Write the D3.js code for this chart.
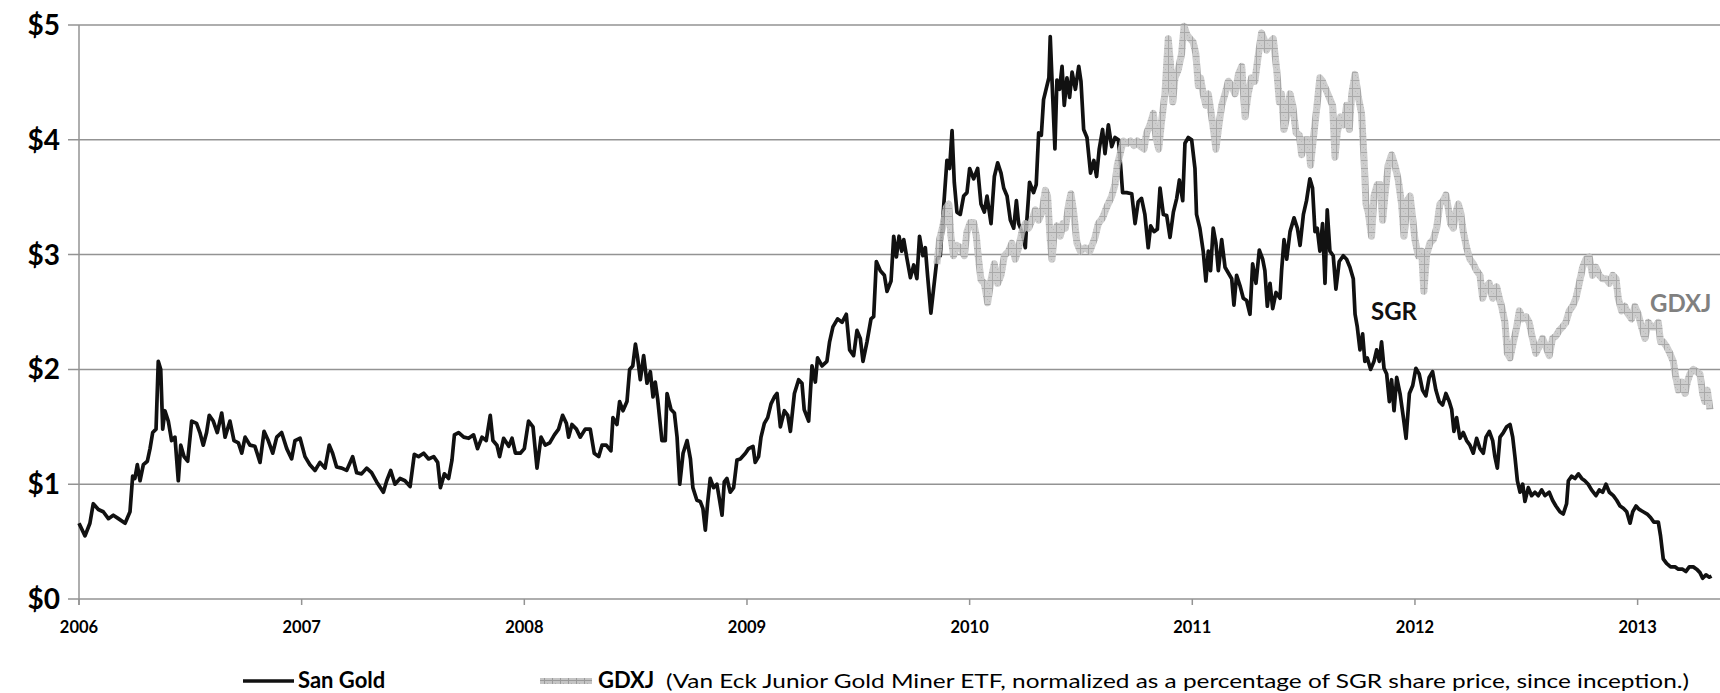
<!DOCTYPE html>
<html>
  <head>
    <meta charset="utf-8">
    <style>
      body { margin: 0; background: #fff; }
      text { font-family: Lato, "Open Sans", sans-serif; }
      .grid line { stroke: #939393; stroke-width: 1.5; }
    </style>
    <script src="https://cdnjs.cloudflare.com/ajax/libs/d3/7.8.5/d3.min.js"></script>
  </head>
  <body>
    <svg width="1720" height="693" id="SVG"></svg>
    <script>
      // tick labels
      var yearTicks = [2006, 2007, 2008, 2009, 2010, 2011, 2012, 2013];
      var priceTicks = [0, 1, 2, 3, 4, 5];

      // San Gold (SGR) share price, decimal year -> dollars
      var sgrYears = [2006.000,2006.027,2006.049,2006.064,2006.087,2006.109,2006.132,2006.154,2006.177,2006.207,2006.229,2006.241,2006.251,2006.262,2006.274,2006.289,2006.307,2006.319,2006.331,2006.346,2006.356,2006.367,2006.376,2006.386,2006.401,2006.416,2006.431,2006.446,2006.457,2006.472,2006.488,2006.506,2006.528,2006.543,2006.558,2006.573,2006.585,2006.603,2006.621,2006.641,2006.656,2006.678,2006.696,2006.716,2006.731,2006.746,2006.768,2006.790,2006.813,2006.831,2006.850,2006.870,2006.888,2006.910,2006.933,2006.955,2006.970,2006.993,
        2007.015,2007.037,2007.060,2007.082,2007.105,2007.124,2007.139,2007.157,2007.180,2007.202,2007.229,2007.247,2007.269,2007.292,2007.314,2007.337,2007.367,2007.382,2007.400,2007.419,2007.442,2007.464,2007.487,2007.506,2007.525,2007.548,2007.570,2007.593,2007.611,2007.623,2007.641,2007.660,2007.675,2007.686,2007.705,2007.728,2007.750,2007.772,2007.790,2007.810,2007.829,2007.847,2007.859,2007.877,2007.889,2007.907,2007.930,2007.945,2007.960,2007.982,
        2008.000,2008.019,2008.039,2008.057,2008.075,2008.094,2008.114,2008.135,2008.154,2008.172,2008.189,2008.199,2008.214,2008.234,2008.251,2008.274,2008.296,2008.314,2008.334,2008.349,2008.368,2008.389,2008.398,2008.416,2008.428,2008.443,2008.461,2008.473,2008.487,2008.499,2008.509,2008.521,2008.536,2008.551,2008.566,2008.578,2008.588,2008.599,2008.618,2008.633,2008.641,2008.659,2008.674,2008.686,2008.698,2008.713,2008.731,2008.746,2008.757,2008.775,2008.790,2008.802,2008.813,2008.823,2008.835,2008.850,2008.865,2008.877,2008.888,2008.898,2008.910,2008.925,2008.940,2008.955,2008.970,2008.993,
        2009.007,2009.027,2009.037,2009.052,2009.063,2009.078,2009.093,2009.108,2009.123,2009.135,2009.150,2009.168,2009.183,2009.195,2009.213,2009.232,2009.247,2009.257,2009.277,2009.292,2009.307,2009.317,2009.337,2009.359,2009.371,2009.386,2009.407,2009.427,2009.446,2009.461,2009.479,2009.494,2009.509,2009.521,2009.539,2009.557,2009.569,2009.581,2009.599,2009.617,2009.629,2009.647,2009.659,2009.671,2009.683,2009.695,2009.704,2009.719,2009.734,2009.749,2009.763,2009.775,2009.790,2009.801,2009.811,2009.826,2009.838,2009.853,2009.868,2009.883,2009.898,2009.910,2009.921,2009.931,2009.943,2009.958,2009.973,2009.988,
        2010.000,2010.018,2010.036,2010.051,2010.066,2010.078,2010.096,2010.111,2010.126,2010.141,2010.153,2010.168,2010.183,2010.198,2010.210,2010.220,2010.235,2010.250,2010.257,2010.269,2010.287,2010.299,2010.310,2010.322,2010.332,2010.347,2010.356,2010.362,2010.371,2010.383,2010.392,2010.404,2010.415,2010.425,2010.437,2010.449,2010.460,2010.475,2010.490,2010.500,2010.512,2010.527,2010.543,2010.558,2010.570,2010.582,2010.597,2010.608,2010.623,2010.638,2010.653,2010.668,2010.678,2010.687,2010.705,2010.728,2010.743,2010.757,2010.772,2010.787,2010.802,2010.813,2010.828,2010.843,2010.855,2010.870,2010.885,2010.900,2010.915,2010.930,2010.942,2010.957,2010.967,2010.982,2010.997,
        2011.012,2011.019,2011.034,2011.049,2011.061,2011.072,2011.082,2011.094,2011.106,2011.117,2011.132,2011.147,2011.162,2011.177,2011.187,2011.199,2011.214,2011.229,2011.244,2011.259,2011.271,2011.286,2011.301,2011.316,2011.326,2011.337,2011.349,2011.361,2011.376,2011.394,2011.401,2011.412,2011.424,2011.439,2011.457,2011.472,2011.484,2011.499,2011.513,2011.528,2011.540,2011.551,2011.561,2011.573,2011.585,2011.596,2011.606,2011.618,2011.633,2011.645,2011.660,2011.678,2011.693,2011.708,2011.723,2011.731,2011.741,2011.753,2011.765,2011.775,2011.786,2011.801,2011.816,2011.828,2011.840,2011.850,2011.861,2011.873,2011.885,2011.895,2011.906,2011.918,2011.933,2011.948,2011.960,2011.975,2011.990,
        2012.004,2012.019,2012.034,2012.049,2012.064,2012.079,2012.094,2012.109,2012.124,2012.139,2012.154,2012.165,2012.175,2012.187,2012.202,2012.217,2012.232,2012.247,2012.262,2012.277,2012.292,2012.307,2012.319,2012.334,2012.349,2012.359,2012.370,2012.382,2012.397,2012.412,2012.427,2012.439,2012.449,2012.460,2012.472,2012.484,2012.494,2012.509,2012.524,2012.539,2012.554,2012.569,2012.584,2012.603,2012.618,2012.633,2012.651,2012.666,2012.681,2012.689,2012.704,2012.719,2012.734,2012.749,2012.763,2012.778,2012.793,2012.813,2012.828,2012.843,2012.858,2012.873,2012.891,2012.906,2012.921,2012.936,2012.951,2012.966,2012.978,2012.993,
        2013.007,2013.025,2013.043,2013.058,2013.073,2013.093,2013.103,2013.115,2013.130,2013.148,2013.168,2013.183,2013.202,2013.217,2013.232,2013.250,2013.265,2013.280,2013.292,2013.307,2013.322,2013.332];
      var sgrValues = [0.66,0.55,0.66,0.83,0.78,0.76,0.70,0.73,0.70,0.66,0.76,1.07,1.05,1.17,1.03,1.17,1.20,1.31,1.45,1.48,2.07,2.00,1.48,1.64,1.55,1.38,1.41,1.03,1.34,1.24,1.20,1.55,1.53,1.45,1.34,1.45,1.60,1.55,1.45,1.62,1.41,1.55,1.38,1.36,1.27,1.41,1.34,1.33,1.19,1.46,1.38,1.27,1.41,1.45,1.31,1.22,1.38,1.40,
        1.24,1.17,1.12,1.19,1.14,1.34,1.27,1.15,1.14,1.12,1.24,1.10,1.09,1.14,1.10,1.02,0.93,1.03,1.12,1.00,1.05,1.03,0.98,1.26,1.24,1.27,1.22,1.24,1.19,0.97,1.09,1.05,1.21,1.43,1.45,1.41,1.40,1.43,1.31,1.41,1.38,1.60,1.38,1.34,1.24,1.40,1.33,1.40,1.27,1.27,
        1.31,1.55,1.50,1.14,1.41,1.34,1.36,1.43,1.48,1.60,1.53,1.41,1.52,1.48,1.41,1.48,1.48,1.27,1.24,1.34,1.34,1.29,1.58,1.52,1.72,1.64,1.72,2.00,2.03,2.22,2.10,1.91,2.12,1.88,1.98,1.76,1.89,1.74,1.38,1.38,1.79,1.65,1.62,1.41,1.00,1.27,1.38,1.22,0.97,0.86,0.85,0.79,0.60,0.83,1.05,0.97,1.00,0.86,0.73,1.02,1.05,0.93,0.97,1.21,1.22,1.27,
        1.31,1.33,1.19,1.24,1.41,1.53,1.58,1.70,1.76,1.79,1.50,1.64,1.60,1.46,1.79,1.91,1.88,1.65,1.55,2.03,1.89,2.10,2.03,2.07,2.24,2.37,2.44,2.41,2.48,2.17,2.12,2.34,2.27,2.07,2.24,2.44,2.46,2.94,2.86,2.82,2.68,2.77,3.16,2.98,3.16,3.03,3.13,2.96,2.80,2.91,2.79,3.16,2.99,3.06,2.82,2.49,2.70,2.96,2.99,3.41,3.82,3.75,4.08,3.63,3.37,3.35,3.51,3.54,
        3.75,3.66,3.75,3.44,3.37,3.51,3.27,3.68,3.80,3.71,3.58,3.51,3.30,3.23,3.47,3.27,3.20,3.06,3.30,3.63,3.54,3.61,4.06,4.04,4.35,4.47,4.54,4.90,4.47,3.92,4.52,4.44,4.64,4.30,4.54,4.37,4.59,4.44,4.64,4.51,4.09,4.02,3.71,3.82,3.68,3.92,4.09,3.88,4.13,3.94,4.02,4.00,3.78,3.54,3.54,3.53,3.27,3.46,3.49,3.35,3.06,3.25,3.20,3.22,3.58,3.35,3.34,3.15,3.37,3.49,3.65,3.47,3.97,4.02,4.00,
        3.75,3.35,3.23,3.03,2.77,3.03,2.86,3.23,3.10,2.86,3.13,2.89,2.84,2.79,2.56,2.82,2.73,2.62,2.60,2.48,2.92,2.75,3.04,2.96,2.86,2.55,2.75,2.53,2.67,2.62,2.86,3.13,2.96,3.20,3.32,3.23,3.08,3.35,3.47,3.66,3.58,3.20,3.23,3.03,3.27,2.75,3.39,3.03,2.99,2.70,2.94,2.99,2.96,2.89,2.79,2.48,2.37,2.17,2.31,2.07,2.10,2.00,2.07,2.17,2.07,2.24,2.01,1.96,1.72,1.91,1.64,1.93,1.79,1.58,1.40,1.79,1.86,
        2.01,1.96,1.82,1.77,1.93,1.98,1.82,1.72,1.69,1.79,1.72,1.65,1.46,1.58,1.40,1.45,1.38,1.34,1.27,1.40,1.31,1.27,1.41,1.46,1.38,1.24,1.14,1.41,1.45,1.50,1.52,1.41,1.24,1.03,0.93,1.00,0.85,0.97,0.90,0.93,0.90,0.95,0.90,0.93,0.86,0.81,0.76,0.74,0.83,1.03,1.07,1.05,1.09,1.05,1.03,1.00,0.95,0.90,0.95,0.93,1.00,0.93,0.90,0.86,0.81,0.79,0.76,0.66,0.76,0.81,
        0.78,0.76,0.74,0.71,0.67,0.67,0.55,0.35,0.31,0.28,0.28,0.26,0.26,0.24,0.28,0.28,0.26,0.23,0.18,0.21,0.19,0.20];

      // GDXJ, normalized to SGR price
      var gdxjYears = [2009.853,2009.865,2009.880,2009.895,2009.906,2009.916,2009.928,2009.943,2009.961,2009.976,2009.988,
        2010.003,2010.018,2010.030,2010.040,2010.051,2010.066,2010.081,2010.096,2010.111,2010.126,2010.141,2010.156,2010.175,2010.190,2010.205,2010.220,2010.235,2010.250,2010.265,2010.280,2010.295,2010.310,2010.325,2010.340,2010.350,2010.362,2010.370,2010.380,2010.392,2010.407,2010.419,2010.430,2010.445,2010.455,2010.467,2010.482,2010.497,2010.518,2010.540,2010.563,2010.578,2010.597,2010.615,2010.638,2010.653,2010.663,2010.675,2010.690,2010.708,2010.723,2010.738,2010.753,2010.768,2010.783,2010.795,2010.810,2010.825,2010.837,2010.849,2010.862,2010.877,2010.892,2010.903,2010.912,2010.922,2010.937,2010.952,2010.963,2010.975,2010.990,
        2011.004,2011.016,2011.027,2011.037,2011.049,2011.061,2011.072,2011.087,2011.097,2011.106,2011.117,2011.132,2011.147,2011.162,2011.177,2011.192,2011.207,2011.222,2011.237,2011.251,2011.266,2011.281,2011.296,2011.311,2011.322,2011.334,2011.349,2011.364,2011.379,2011.391,2011.401,2011.412,2011.424,2011.439,2011.451,2011.466,2011.481,2011.491,2011.506,2011.521,2011.531,2011.543,2011.558,2011.573,2011.585,2011.600,2011.615,2011.630,2011.641,2011.651,2011.666,2011.681,2011.693,2011.705,2011.716,2011.731,2011.746,2011.760,2011.771,2011.780,2011.790,2011.805,2011.816,2011.831,2011.843,2011.855,2011.865,2011.880,2011.895,2011.910,2011.925,2011.940,2011.951,2011.966,2011.978,2011.985,
        2012.000,2012.015,2012.030,2012.040,2012.052,2012.067,2012.082,2012.097,2012.112,2012.127,2012.139,2012.150,2012.160,2012.172,2012.184,2012.195,2012.205,2012.217,2012.232,2012.247,2012.262,2012.277,2012.292,2012.304,2012.319,2012.334,2012.349,2012.367,2012.379,2012.389,2012.404,2012.415,2012.427,2012.442,2012.454,2012.469,2012.484,2012.499,2012.513,2012.528,2012.543,2012.558,2012.573,2012.588,2012.603,2012.618,2012.633,2012.648,2012.663,2012.678,2012.693,2012.708,2012.723,2012.738,2012.753,2012.768,2012.783,2012.798,2012.813,2012.828,2012.843,2012.858,2012.873,2012.888,2012.903,2012.913,2012.928,2012.943,2012.958,2012.973,2012.988,
        2013.003,2013.018,2013.033,2013.048,2013.063,2013.078,2013.093,2013.103,2013.115,2013.130,2013.145,2013.160,2013.172,2013.183,2013.198,2013.213,2013.223,2013.235,2013.250,2013.265,2013.280,2013.292,2013.302,2013.313,2013.325];
      var gdxjValues = [2.92,3.13,3.25,3.41,3.44,3.16,2.99,3.08,3.06,2.99,3.20,
        3.28,3.28,3.16,2.96,2.78,2.75,2.58,2.78,2.92,2.75,2.82,2.99,3.03,3.10,2.96,3.06,3.20,3.27,3.23,3.30,3.39,3.30,3.37,3.56,3.51,3.13,2.96,3.20,3.25,3.16,3.27,3.23,3.44,3.53,3.37,3.10,3.03,3.06,3.03,3.15,3.27,3.32,3.41,3.51,3.61,3.78,3.87,3.99,3.97,3.99,3.95,3.99,3.94,3.92,4.06,4.13,4.23,4.02,3.92,4.16,4.40,4.88,4.64,4.33,4.54,4.61,4.75,4.99,4.92,4.88,
        4.85,4.75,4.47,4.54,4.40,4.30,4.40,4.20,4.06,3.92,4.09,4.30,4.40,4.51,4.47,4.40,4.57,4.64,4.20,4.40,4.54,4.51,4.73,4.93,4.88,4.78,4.85,4.88,4.61,4.33,4.40,4.09,4.20,4.40,4.30,4.06,4.04,3.87,4.00,4.00,3.78,4.00,4.26,4.54,4.51,4.44,4.37,4.30,3.85,4.06,4.20,4.13,4.30,4.09,4.40,4.57,4.37,4.23,3.85,3.44,3.37,3.16,3.51,3.61,3.61,3.30,3.51,3.78,3.87,3.78,3.65,3.44,3.16,3.47,3.51,3.40,
        3.13,2.99,3.03,2.68,2.99,3.10,3.13,3.23,3.44,3.47,3.52,3.40,3.27,3.23,3.37,3.44,3.37,3.20,3.06,2.96,2.92,2.86,2.82,2.62,2.72,2.75,2.62,2.72,2.62,2.55,2.41,2.14,2.10,2.24,2.34,2.51,2.44,2.46,2.41,2.27,2.14,2.20,2.27,2.20,2.12,2.27,2.29,2.34,2.37,2.41,2.51,2.55,2.62,2.75,2.89,2.96,2.98,2.82,2.89,2.82,2.79,2.79,2.75,2.82,2.79,2.62,2.51,2.55,2.48,2.44,2.55,
        2.48,2.37,2.27,2.41,2.37,2.37,2.41,2.24,2.24,2.20,2.14,2.07,1.93,1.82,1.89,1.79,1.89,1.96,2.00,1.98,1.96,1.79,1.72,1.82,1.65];

      var svg = d3.select("#SVG");

      var plotLeft = 79, plotRight = 1720, plotTop = 25, plotBottom = 599;

      var x = d3.scaleLinear().domain([2006, 2013.37]).range([plotLeft, plotRight]);
      var y = d3.scaleLinear().domain([0, 5]).range([plotBottom, plotTop]);

      // crosshatch texture for the GDXJ line
      var defs = svg.append("defs");
      var pat = defs.append("pattern")
                    .attr("id", "hatch")
                    .attr("patternUnits", "userSpaceOnUse")
                    .attr("width", 8)
                    .attr("height", 8);
      pat.append("rect").attr("width", 8).attr("height", 8).attr("fill", "#c4c4c4");
      pat.append("rect").attr("x", 0).attr("y", 0).attr("width", 1).attr("height", 8).attr("fill", "#9a9a9a");
      pat.append("rect").attr("x", 0).attr("y", 0).attr("width", 8).attr("height", 1).attr("fill", "#9a9a9a");
      pat.append("rect").attr("x", 3).attr("y", 3).attr("width", 1).attr("height", 1).attr("fill", "#adadad");
      pat.append("rect").attr("x", 5).attr("y", 5).attr("width", 1).attr("height", 1).attr("fill", "#adadad");

      // horizontal gridlines (with ticks sticking out left of the axis)
      svg.append("g")
         .attr("class", "grid")
         .selectAll("line")
         .data(priceTicks)
         .enter()
         .append("line")
         .attr("x1", plotLeft - 11)
         .attr("x2", plotRight)
         .attr("y1", function(d) { return y(d) })
         .attr("y2", function(d) { return y(d) });

      // vertical axis line
      svg.append("line")
         .attr("x1", plotLeft).attr("x2", plotLeft)
         .attr("y1", plotTop).attr("y2", plotBottom + 6)
         .attr("stroke", "#939393")
         .attr("stroke-width", 1.5);

      // year ticks on the x axis
      svg.append("g")
         .selectAll("line")
         .data(yearTicks)
         .enter()
         .append("line")
         .attr("x1", function(d) { return x(d) })
         .attr("x2", function(d) { return x(d) })
         .attr("y1", plotBottom)
         .attr("y2", plotBottom + 6)
         .attr("stroke", "#939393")
         .attr("stroke-width", 1.5);

      svg.append("g")
         .selectAll("text")
         .data(yearTicks)
         .enter()
         .append("text")
         .attr("x", function(d) { return x(d) })
         .attr("y", 633)
         .attr("text-anchor", "middle")
         .attr("font-size", 16.5)
         .attr("font-weight", "bold")
         .text(function(d) { return d });

      svg.append("g")
         .selectAll("text")
         .data(priceTicks)
         .enter()
         .append("text")
         .attr("x", 60)
         .attr("y", function(d) { return y(d) + 10 })
         .attr("text-anchor", "end")
         .attr("font-size", 28)
         .attr("font-weight", "bold")
         .text(function(d) { return "$" + d });

      var sgrData = sgrYears.map(function(t, i) { return [t, sgrValues[i]] });
      var gdxjData = gdxjYears.map(function(t, i) { return [t, gdxjValues[i]] });

      var line = d3.line()
                   .x(function(d) { return x(d[0]) })
                   .y(function(d) { return y(d[1]) });

      svg.append("path")
         .datum(sgrData)
         .attr("d", line)
         .attr("fill", "none")
         .attr("stroke", "#111")
         .attr("stroke-width", 3.7)
         .attr("stroke-linejoin", "round");

      svg.append("path")
         .datum(gdxjData)
         .attr("d", line)
         .attr("fill", "none")
         .attr("stroke", "url(#hatch)")
         .attr("stroke-width", 7)
         .attr("stroke-linejoin", "round")
         .attr("opacity", 0.85);

      // series labels
      svg.append("text")
         .attr("x", 1371).attr("y", 320)
         .attr("font-family", "'Open Sans', sans-serif")
         .attr("font-size", 24).attr("font-weight", "bold")
         .attr("fill", "#111")
         .text("SGR");

      svg.append("text")
         .attr("x", 1650).attr("y", 312)
         .attr("font-family", "'Open Sans', sans-serif")
         .attr("font-size", 24).attr("font-weight", "bold")
         .attr("fill", "#808080")
         .text("GDXJ");

      // legend
      var legendY = 681;
      svg.append("line")
         .attr("x1", 243).attr("x2", 294)
         .attr("y1", legendY).attr("y2", legendY)
         .attr("stroke", "#111").attr("stroke-width", 3.5);
      svg.append("text")
         .attr("x", 298).attr("y", legendY + 7)
         .attr("font-size", 22).attr("font-weight", "bold")
         .text("San Gold");

      svg.append("line")
         .attr("x1", 540).attr("x2", 592)
         .attr("y1", legendY).attr("y2", legendY)
         .attr("stroke", "url(#hatch)").attr("stroke-width", 6);
      svg.append("text")
         .attr("x", 598).attr("y", legendY + 7)
         .attr("font-size", 22).attr("font-weight", "bold")
         .text("GDXJ");
      svg.append("text")
         .attr("x", 666).attr("y", legendY + 7)
         .attr("font-size", 20)
         .attr("textLength", 1023)
         .attr("lengthAdjust", "spacingAndGlyphs")
         .text("(Van Eck Junior Gold Miner ETF, normalized as a percentage of SGR share price, since inception.)");
    </script>
  </body>
</html>
